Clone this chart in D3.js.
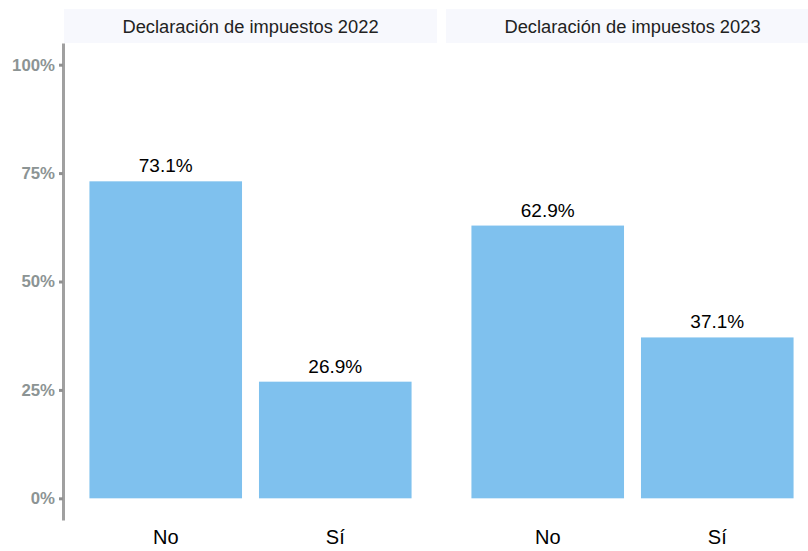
<!DOCTYPE html>
<html><head><meta charset="utf-8">
<script src="https://cdn.jsdelivr.net/npm/d3@7"></script>
<style>body{margin:0;background:#fff;}svg{display:block;font-family:"Liberation Sans",Arial,sans-serif;}</style>
</head><body>
<script>
const panels = ["Declaración de impuestos 2022", "Declaración de impuestos 2023"];
const categories = ["No", "Sí"];
const values2022 = [0.731, 0.269];
const values2023 = [0.629, 0.371];
const labels2022 = ["73.1%", "26.9%"];
const labels2023 = ["62.9%", "37.1%"];
const yTicks = [0, 0.25, 0.5, 0.75, 1];
const yTickLabels = ["0%", "25%", "50%", "75%", "100%"];

(function () {
const W = 808, H = 551;
const svg = d3.select("body").append("svg").attr("width", W).attr("height", H);

const plotTop = 43, plotBottom = 520;
const y = d3.scaleLinear().domain([-0.05, 1.05]).range([plotBottom, plotTop]);
const panelX = [64, 446], panelW = 373;
const seriesVals = [values2022, values2023];
const seriesLabels = [labels2022, labels2023];

panels.forEach((p, i) => {
  const x0 = panelX[i];
  const g = svg.append("g").attr("transform", `translate(${x0},0)`);
  g.append("rect").attr("x", 0).attr("y", 9).attr("width", panelW).attr("height", 34).attr("fill", "#f7f8fd");
  g.append("text").attr("x", panelW / 2).attr("y", 32.5).attr("text-anchor", "middle")
    .attr("font-size", 18.3).attr("fill", "#222").text(p);
  const x = d3.scaleBand().domain(categories).range([0, panelW]).paddingInner(0.1).paddingOuter(0.15);
  const data = categories.map((c, j) => ({c, v: seriesVals[i][j], l: seriesLabels[i][j]}));
  g.selectAll("rect.bar").data(data).enter().append("rect").attr("class", "bar")
    .attr("x", d => x(d.c)).attr("width", x.bandwidth())
    .attr("y", d => y(d.v)).attr("height", d => y(0) - y(d.v))
    .attr("fill", "#7fc1ee");
  g.selectAll("text.val").data(data).enter().append("text").attr("class", "val")
    .attr("x", d => x(d.c) + x.bandwidth() / 2).attr("y", d => y(d.v) - 9)
    .attr("text-anchor", "middle").attr("font-size", 19).attr("fill", "#000").text(d => d.l);
  const xa = g.append("g").attr("transform", `translate(0,${plotBottom})`)
    .call(d3.axisBottom(x).tickSize(0).tickPadding(10));
  xa.select(".domain").remove();
  xa.selectAll("text").attr("font-size", 20).attr("fill", "#000").attr("font-family", "Liberation Sans, Arial, sans-serif");
});

const ya = svg.append("g").attr("transform", `translate(63,0)`)
  .call(d3.axisLeft(y).tickValues(yTicks).tickFormat((d, i) => yTickLabels[i]).tickSize(4).tickPadding(4).tickSizeOuter(0));
ya.select(".domain").attr("stroke", "#a0a0a0").attr("stroke-width", 3);
ya.selectAll(".tick line").attr("stroke", "#909090").attr("stroke-width", 3);
ya.selectAll("text").attr("font-size", 16.8).attr("font-weight", "bold").attr("fill", "#8c9494")
  .attr("font-family", "Liberation Sans, Arial, sans-serif");
})();
</script>
</body></html>
